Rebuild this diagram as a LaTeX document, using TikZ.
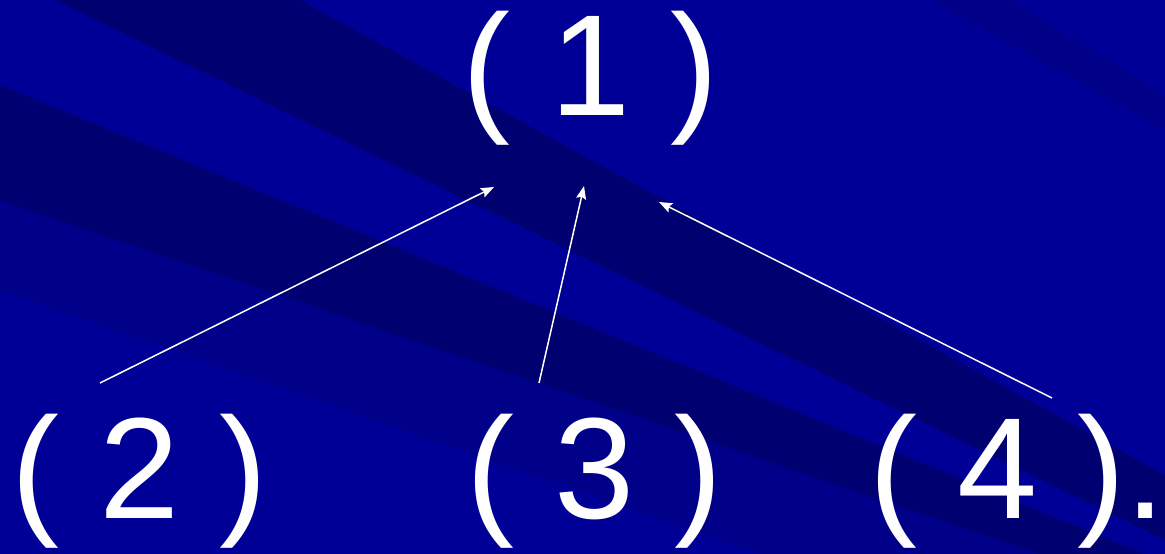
\documentclass[tikz,border=0pt]{standalone}
\usepackage{fontspec}
\setmainfont{Liberation Sans}
\usetikzlibrary{arrows.meta,positioning}
\definecolor{slidebg}{RGB}{0,0,150}
\definecolor{stripedark}{RGB}{0,0,112}
\definecolor{stripemid}{RGB}{0,0,136}
\tikzset{
    termlabel/.style={text=white, inner sep=0pt, anchor=base, font=\fontsize{144}{150}\selectfont},
    linkarrow/.style={-{Stealth[length=13pt, width=10pt, inset=2pt]}, draw=white, line width=1.5pt},
    stripe/.style={fill=stripedark, draw=none},
    faintstripe/.style={fill=stripemid, draw=none}
}

\begin{document}
\begin{tikzpicture}[x=1pt, y=-1pt]
    % background and diagonal bands
    \fill[slidebg] (0,0) rectangle (1165,554);
    \useasboundingbox (0,0) rectangle (1165,554);
    \fill[faintstripe] (0,200) -- (0,290) -- (760,554) -- (1041,554) -- cycle;
    \fill[faintstripe] (930,0) -- (1010,0) -- (1165,95) -- (1165,130) -- cycle;
    \fill[stripe] (55,0) -- (300,0) -- (1165,475) -- (1165,540) -- cycle;
    \fill[stripe] (0,85) -- (0,200) -- (1041,554) -- (1144,554) -- cycle;

    % terms
    \node[termlabel] (top) at (590.5,115) {( 1 )};
    \node[termlabel] (left) at (139.5,518) {( 2 )};
    \node[termlabel] (mid) at (594.5,518) {( 3 )};
    \node[termlabel, anchor=base west] (right) at (869,518) {( 4 ).};

    % arrow ends
    \coordinate (s2) at (100,383);
    \coordinate (s3) at (539,383);
    \coordinate (s4) at (1052,398);
    \coordinate (e2) at (494,187);
    \coordinate (e3) at (584,186);
    \coordinate (e4) at (659,202);

    \draw[linkarrow] (s2) -- (e2);
    \draw[linkarrow] (s3) -- (e3);
    \draw[linkarrow] (s4) -- (e4);
\end{tikzpicture}
\end{document}
